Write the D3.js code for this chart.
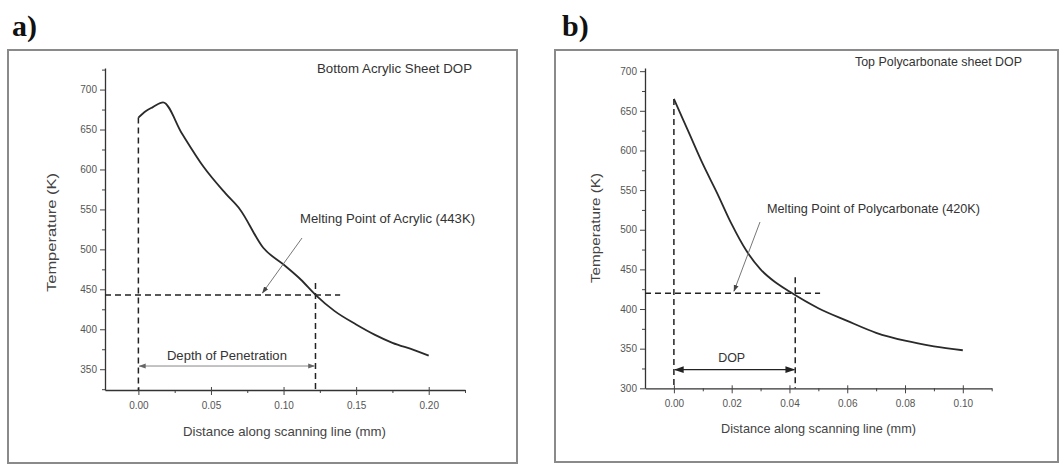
<!DOCTYPE html>
<html><head><meta charset="utf-8">
<script src="https://cdn.jsdelivr.net/npm/d3@7"></script>
<style>
body{margin:0;background:#fff;}
svg{display:block;}
text{font-family:"Liberation Sans",Arial,sans-serif;}
.tick text{fill:#555;font-size:10px;}
.tick line{stroke:#444;}
.domain{stroke:#333;stroke-width:1.3px;}
</style></head><body>
<script>
// ---------- data ----------
const acrylicX = [0, 0.005, 0.01, 0.017, 0.03, 0.045, 0.06, 0.07, 0.086, 0.10, 0.112, 0.122, 0.135, 0.15, 0.163, 0.175, 0.19, 0.20];
const acrylicT = [665, 673, 678, 684, 645, 603, 570, 550, 502, 481, 462, 443, 423, 406, 393, 383, 374, 367];
const polyX = [0, 0.005, 0.01, 0.015, 0.02, 0.025, 0.03, 0.035, 0.04, 0.05, 0.06, 0.07, 0.08, 0.09, 0.10];
const polyT = [665, 624, 583, 546, 507, 474, 450, 434, 422, 401, 385, 370, 360, 353, 348];
const acrylicXTicks = [0, 0.05, 0.10, 0.15, 0.20];
const acrylicYTicks = [350, 400, 450, 500, 550, 600, 650, 700];
const polyXTicks = [0, 0.02, 0.04, 0.06, 0.08, 0.10];
const polyYTicks = [300, 350, 400, 450, 500, 550, 600, 650, 700];
const acrylicMelt = 443, acrylicDOP = 0.122;
const polyMelt = 420, polyDOP = 0.042;

const svg = d3.select("body").append("svg").attr("width",1061).attr("height",466);
const defs = svg.append("defs");
function marker(id, color, orient){
  defs.append("marker").attr("id",id).attr("viewBox","0 0 10 10").attr("refX",9).attr("refY",5)
    .attr("markerWidth",7).attr("markerHeight",7).attr("orient",orient)
    .append("path").attr("d","M0,1.5L10,5L0,8.5Z").attr("fill",color);
}
marker("arrA","#666","auto-start-reverse");
marker("arrB","#222","auto-start-reverse");
marker("ptr","#444","auto");

function label(g, txt, x, y, len, size, anchor, color, rot){
  const t = g.append("text").attr("text-anchor",anchor||"start").attr("dominant-baseline","middle")
    .style("font-size",size+"px").attr("fill",color||"#333").text(txt);
  if(rot) t.attr("transform",`translate(${x},${y}) rotate(-90)`); else t.attr("x",x).attr("y",y);
  if(len) t.attr("textLength",len).attr("lengthAdjust","spacingAndGlyphs");
  return t;
}

function panel(cfg){
  const g = svg.append("g");
  g.append("rect").attr("x",cfg.frame[0]).attr("y",cfg.frame[1]).attr("width",cfg.frame[2]).attr("height",cfg.frame[3])
    .attr("fill","none").attr("stroke","#8a8a8a").attr("stroke-width",2);
  g.append("text").attr("x",cfg.letterPos[0]).attr("y",cfg.letterPos[1]).text(cfg.letter)
    .style("font-family","'Liberation Serif','Times New Roman',serif").style("font-weight","bold").style("font-size","30px").attr("fill","#111");
  const x = d3.scaleLinear().domain(cfg.xDom).range(cfg.xRange);
  const y = d3.scaleLinear().domain(cfg.yDom).range(cfg.yRange);
  // minor ticks
  g.append("g").attr("transform",`translate(0,${cfg.yRange[0]})`)
    .call(d3.axisBottom(x).tickValues(cfg.xMinor).tickSize(3).tickFormat("").tickSizeOuter(0))
    .call(s=>s.select(".domain").remove());
  g.append("g").attr("transform",`translate(${cfg.xRange[0]},0)`)
    .call(d3.axisLeft(y).tickValues(cfg.yMinor).tickSize(3).tickFormat("").tickSizeOuter(0))
    .call(s=>s.select(".domain").remove());
  // major axes
  g.append("g").attr("transform",`translate(0,${cfg.yRange[0]})`)
    .call(d3.axisBottom(x).tickValues(cfg.xTicks).tickSize(5).tickPadding(7).tickSizeOuter(0).tickFormat(d3.format(".2f")))
    .call(s=>s.selectAll(".tick line").attr("y1",-3));
  g.append("g").attr("transform",`translate(${cfg.xRange[0]},0)`)
    .call(d3.axisLeft(y).tickValues(cfg.yTicks).tickSize(5).tickPadding(3).tickSizeOuter(0).tickFormat(d3.format("d")));
  // axis titles
  label(g,"Distance along scanning line (mm)",cfg.xTitle[0],cfg.xTitle[1],cfg.xTitle[2],13,"middle","#444");
  label(g,"Temperature (K)",cfg.yTitle[0],cfg.yTitle[1],cfg.yTitle[2],13,"middle","#444",true);
  label(g,cfg.title,cfg.titlePos[0],cfg.titlePos[1],cfg.titlePos[2],13,"start","#333");
  // dashed guides
  function dline(x1,y1,x2,y2){ g.append("line").attr("x1",x1).attr("y1",y1).attr("x2",x2).attr("y2",y2)
    .attr("stroke","#222").attr("stroke-width",1.5).attr("stroke-dasharray","6,4"); }
  dline(cfg.xRange[0], y(cfg.melt), x(cfg.hEnd), y(cfg.melt));
  dline(x(0), y(cfg.t[0]), x(0), cfg.yRange[0]);
  dline(x(cfg.dop), y(cfg.vTop), x(cfg.dop), cfg.yRange[0]);
  // curve
  const pts = cfg.xs.map((v,i)=>[v,cfg.t[i]]);
  g.append("path").datum(pts).attr("fill","none").attr("stroke","#2a2a2a").attr("stroke-width",1.8)
    .attr("d",d3.line().x(d=>x(d[0])).y(d=>y(d[1])).curve(cfg.curve));
  // DOP arrow
  g.append("line").attr("x1",x(0)+1).attr("x2",x(cfg.dop)-1).attr("y1",y(cfg.arrowT)).attr("y2",y(cfg.arrowT))
    .attr("stroke",cfg.arrowColor).attr("stroke-width",cfg.arrowW)
    .attr("marker-start",`url(#${cfg.arrowMarker})`).attr("marker-end",`url(#${cfg.arrowMarker})`);
  label(g,cfg.dopLabel,x(cfg.dopLabelX),y(cfg.dopLabelT),cfg.dopLen,13.5,"middle","#333");
  // melting point annotation
  label(g,cfg.meltLabel,cfg.meltTextPos[0],cfg.meltTextPos[1],cfg.meltTextPos[2],13,"start","#333");
  g.append("line").attr("x1",cfg.ptrStart[0]).attr("y1",cfg.ptrStart[1]).attr("x2",x(cfg.ptrTipX)).attr("y2",y(cfg.melt)-2)
    .attr("stroke","#777").attr("stroke-width",1).attr("marker-end","url(#ptr)");
}

panel({
  frame:[8,50,509,413], letter:"a)", letterPos:[12,36],
  xDom:[-0.023,0.225], xRange:[105,465], yDom:[324,727], yRange:[390,68],
  xTicks:acrylicXTicks, yTicks:acrylicYTicks,
  xMinor:[0.025,0.075,0.125,0.175,0.225], yMinor:[325,375,425,475,525,575,625,675,725],
  xTitle:[284.5,433,203], yTitle:[53,232.5,119],
  title:"Bottom Acrylic Sheet DOP", titlePos:[317,70,155],
  xs:acrylicX, t:acrylicT, curve:d3.curveMonotoneX,
  melt:acrylicMelt, hEnd:0.139, dop:acrylicDOP, vTop:458,
  arrowT:354, arrowColor:"#888", arrowW:1, arrowMarker:"arrA",
  dopLabel:"Depth of Penetration", dopLabelX:0.061, dopLabelT:366, dopLen:120,
  meltLabel:"Melting Point of Acrylic (443K)", meltTextPos:[300,220,175],
  ptrStart:[302,238], ptrTipX:0.0855
});
panel({
  frame:[555,50,503,412], letter:"b)", letterPos:[562,36],
  xDom:[-0.01,0.11], xRange:[645,991.7], yDom:[300,704], yRange:[388.3,68],
  xTicks:polyXTicks, yTicks:polyYTicks,
  xMinor:[0.01,0.03,0.05,0.07,0.09,0.11], yMinor:[325,375,425,475,525,575,625,675],
  xTitle:[818.5,430,195], yTitle:[597,228,110],
  title:"Top Polycarbonate sheet DOP", titlePos:[855,63,167],
  xs:polyX, t:polyT, curve:d3.curveMonotoneX,
  melt:polyMelt, hEnd:0.0506, dop:polyDOP, vTop:440,
  arrowT:323.5, arrowColor:"#222", arrowW:1.4, arrowMarker:"arrB",
  dopLabel:"DOP", dopLabelX:0.02, dopLabelT:338, dopLen:27,
  meltLabel:"Melting Point of Polycarbonate (420K)", meltTextPos:[767,210,213],
  ptrStart:[760,222], ptrTipX:0.0208
});
</script>
</body></html>
